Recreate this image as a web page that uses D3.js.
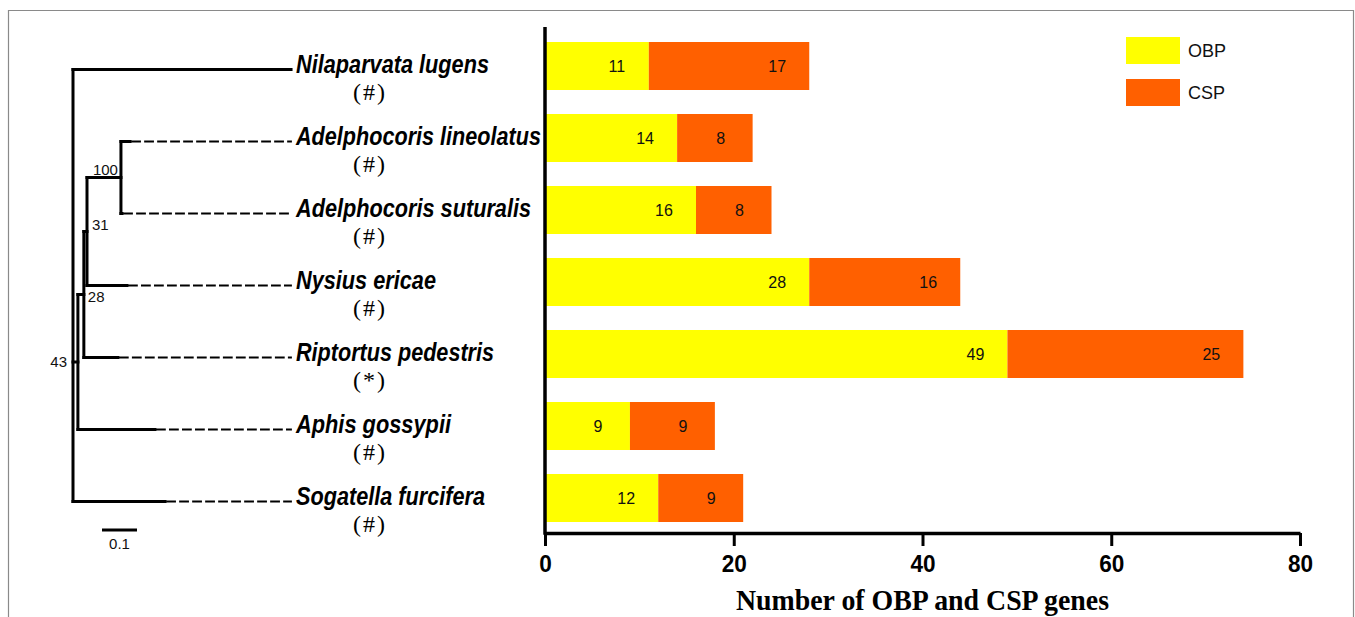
<!DOCTYPE html>
<html>
<head>
<meta charset="utf-8">
<script src="https://cdn.jsdelivr.net/npm/d3@7"></script>
<style>
  html, body { margin: 0; padding: 0; background: #fff; }
  svg { display: block; }
</style>
</head>
<body>
<svg id="chart" width="1355" height="617"></svg>
<script>
// ---- data ----
const species = [
  "Nilaparvata lugens",
  "Adelphocoris lineolatus",
  "Adelphocoris suturalis",
  "Nysius ericae",
  "Riptortus pedestris",
  "Aphis gossypii",
  "Sogatella furcifera"
];
const sources = ["#", "#", "#", "#", "*", "#", "#"];
const obpCounts = [11, 14, 16, 28, 49, 9, 12];
const cspCounts = [17, 8, 8, 16, 25, 9, 9];
const xTicks = [0, 20, 40, 60, 80];
const seriesNames = ["OBP", "CSP"];
const seriesColors = ["#FFFF00", "#FF6000"];

// Phylogeny (branch lengths, bootstrap support on internal nodes)
const phylogeny = {
  children: [
    { name: "Nilaparvata lugens", length: 0.623 },
    { support: 43, length: 0.014, children: [
      { support: 28, length: 0.017, children: [
        { support: 31, length: 0.009, children: [
          { support: 100, length: 0.097, children: [
            { name: "Adelphocoris lineolatus", length: 0.026 },
            { name: "Adelphocoris suturalis", length: 0.003 }
          ]},
          { name: "Nysius ericae", length: 0.114 }
        ]},
        { name: "Riptortus pedestris", length: 0.097 }
      ]},
      { name: "Aphis gossypii", length: 0.22 }
    ]},
    { name: "Sogatella furcifera", length: 0.263 }
  ]
};
const scaleBarLength = 0.1;

// ---- layout ----
const svg = d3.select("#chart");

// page frame
svg.append("path")
  .attr("d", "M8.5,617 V10.5 H1353.5 V617")
  .attr("fill", "none").attr("stroke", "#8a8a8a").attr("stroke-width", 1.2);

const x = d3.scaleLinear().domain([0, 80]).range([545, 1300]);
const y = d3.scaleBand().domain(species).range([30, 534])
  .paddingInner(1 / 3).paddingOuter(1 / 6);
const xAxisY = 533;

// ---- stacked bars ----
const rows = species.map((s, i) => ({ s, obp: obpCounts[i], csp: cspCounts[i] }));
const stack = d3.stack().keys(["obp", "csp"])(rows);
const gBars = svg.append("g");
stack.forEach((layer, k) => {
  gBars.selectAll(null).data(layer).join("rect")
    .attr("x", d => x(d[0]))
    .attr("y", d => y(d.data.s))
    .attr("width", d => x(d[1]) - x(d[0]))
    .attr("height", y.bandwidth())
    .attr("fill", seriesColors[k]);
  gBars.selectAll(null).data(layer).join("text")
    .attr("x", d => x(d[1]) - 32)
    .attr("y", d => y(d.data.s) + y.bandwidth() / 2)
    .attr("dy", "0.36em")
    .attr("text-anchor", "middle")
    .attr("font-family", "Liberation Sans, Arial, sans-serif")
    .attr("font-size", 16)
    .attr("fill", "#111")
    .text(d => d[1] - d[0]);
});

// ---- axes ----
const xAxis = d3.axisBottom(x).tickValues(xTicks).tickSize(13).tickPadding(9).tickSizeOuter(0);
const gx = svg.append("g").attr("transform", `translate(0,${xAxisY})`).call(xAxis);
gx.select(".domain").attr("stroke", "#000").attr("stroke-width", 3.5);
gx.selectAll(".tick line").attr("stroke", "#000").attr("stroke-width", 3);
gx.selectAll(".tick text")
  .attr("font-family", "Liberation Sans, Arial, sans-serif")
  .attr("font-weight", "bold")
  .attr("font-size", 24)
  .attr("fill", "#000")
  .attr("transform", "scale(0.94,1)");

svg.append("line")
  .attr("x1", x(0)).attr("x2", x(0))
  .attr("y1", 27).attr("y2", xAxisY + 1.75)
  .attr("stroke", "#000").attr("stroke-width", 3.5);

svg.append("text")
  .attr("x", (x(0) + x(80)) / 2)
  .attr("y", 610)
  .attr("text-anchor", "middle")
  .attr("font-family", "Liberation Serif, Times New Roman, serif")
  .attr("font-weight", "bold")
  .attr("font-size", 29)
  .attr("textLength", 373)
  .attr("lengthAdjust", "spacingAndGlyphs")
  .text("Number of OBP and CSP genes");

// ---- legend ----
const gLeg = svg.append("g");
seriesNames.forEach((name, i) => {
  gLeg.append("rect")
    .attr("x", 1126).attr("y", 37 + i * 42)
    .attr("width", 54).attr("height", 27)
    .attr("fill", seriesColors[i]);
  gLeg.append("text")
    .attr("x", 1188).attr("y", 37 + i * 42 + 13.5)
    .attr("dy", "0.36em")
    .attr("font-family", "Liberation Sans, Arial, sans-serif")
    .attr("font-size", 18)
    .attr("fill", "#111")
    .text(name);
});

// ---- tree ----
const root = d3.hierarchy(phylogeny);
root.each(n => { n.dist = n.parent ? n.parent.dist + (n.data.length || 0) : 0; });
const bx = d3.scaleLinear().domain([0, 1]).range([73, 423]);
const leafOffset = 3.5;
root.eachAfter(n => {
  n.py = n.children
    ? (n.children[0].py + n.children[n.children.length - 1].py) / 2
    : y(n.data.name) + y.bandwidth() / 2 + leafOffset;
});

const gTree = svg.append("g")
  .attr("fill", "none").attr("stroke", "#000")
  .attr("stroke-linecap", "square");

root.descendants().forEach(n => {
  if (n.parent) {
    gTree.append("line")
      .attr("x1", bx(n.parent.dist)).attr("x2", bx(n.dist))
      .attr("y1", n.py).attr("y2", n.py)
      .attr("stroke-width", 3);
  }
  if (n.children) {
    const ys = n.children.map(c => c.py);
    gTree.append("line")
      .attr("x1", bx(n.dist)).attr("x2", bx(n.dist))
      .attr("y1", d3.min(ys)).attr("y2", d3.max(ys))
      .attr("stroke-width", 3);
  }
});

const labelX = 296;
const leafEndX = 291;
root.leaves().forEach(n => {
  if (bx(n.dist) < leafEndX - 4) {
    gTree.append("line")
      .attr("x1", bx(n.dist) + 2).attr("x2", leafEndX)
      .attr("y1", n.py).attr("y2", n.py)
      .attr("stroke-width", 1.8)
      .attr("stroke-dasharray", "8,5");
  }
});

// support values
const supportPlacement = {
  100: { atEnd: true, anchor: "end", dx: -3, dy: -8 },
  31: { atEnd: true, anchor: "start", dx: 5, dy: -7 },
  28: { atEnd: true, anchor: "start", dx: 4, dy: 2 },
  43: { atEnd: false, anchor: "end", dx: -6, dy: 0 }
};
root.descendants().filter(n => n.data.support != null).forEach(n => {
  const p = supportPlacement[n.data.support];
  const px = p.atEnd ? bx(n.dist) : bx(n.parent.dist);
  svg.append("text")
    .attr("x", px + p.dx).attr("y", n.py + p.dy)
    .attr("dy", "0.36em")
    .attr("text-anchor", p.anchor)
    .attr("font-family", "Liberation Sans, Arial, sans-serif")
    .attr("font-size", 15)
    .attr("fill", "#111")
    .text(n.data.support);
});

// species names and source markers
const nameWidths = {
  "Nilaparvata lugens": 193,
  "Adelphocoris lineolatus": 245,
  "Adelphocoris suturalis": 235,
  "Nysius ericae": 140,
  "Riptortus pedestris": 198,
  "Aphis gossypii": 155,
  "Sogatella furcifera": 189
};
const gNames = svg.append("g");
species.forEach((s, i) => {
  const cy = y(s) + y.bandwidth() / 2;
  gNames.append("text")
    .attr("x", labelX).attr("y", cy + 7)
    .attr("font-family", "Liberation Sans, Arial, sans-serif")
    .attr("font-weight", "bold").attr("font-style", "italic")
    .attr("font-size", 25)
    .attr("textLength", nameWidths[s])
    .attr("lengthAdjust", "spacingAndGlyphs")
    .attr("fill", "#000")
    .text(s);
  gNames.append("text")
    .attr("x", 370).attr("y", cy + 34)
    .attr("text-anchor", "middle")
    .attr("font-family", "Liberation Serif, Times New Roman, serif")
    .attr("font-size", 24)
    .attr("letter-spacing", 2)
    .attr("fill", "#000")
    .text(`(${sources[i]})`);
});

// scale bar
svg.append("line")
  .attr("x1", 102).attr("x2", 102 + bx(scaleBarLength) - bx(0))
  .attr("y1", 530).attr("y2", 530)
  .attr("stroke", "#000").attr("stroke-width", 3);
svg.append("text")
  .attr("x", 102 + (bx(scaleBarLength) - bx(0)) / 2).attr("y", 544)
  .attr("dy", "0.36em")
  .attr("text-anchor", "middle")
  .attr("font-family", "Liberation Sans, Arial, sans-serif")
  .attr("font-size", 15)
  .attr("fill", "#111")
  .text(scaleBarLength);
</script>
</body>
</html>
